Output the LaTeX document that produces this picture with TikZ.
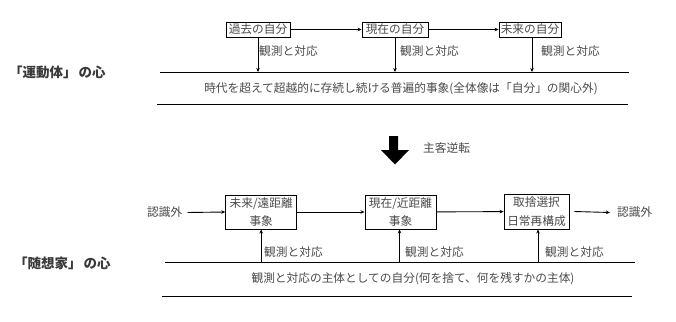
\documentclass[tikz,border=0pt]{standalone}
\usepackage{fontspec}
\setmainfont{Noto Sans CJK JP}
\usetikzlibrary{arrows.meta}
\definecolor{txt}{HTML}{4A4A4A}
\definecolor{txtb}{HTML}{3A3A3A}
\begin{document}
\begin{tikzpicture}[x=1pt,y=-1pt,
  every node/.style={font=\fontsize{11.7}{18.4}\selectfont, text=txt, inner sep=0pt},
  box/.style={draw=black, line width=0.9pt, align=center},
  ln/.style={draw=black, line width=0.9pt},
  arr/.style={ln, -{Stealth[length=4pt,width=3.5pt]}},
  title/.style={anchor=west, font=\fontsize{13.5}{14}\selectfont\bfseries, text=txtb},
  lbl/.style={anchor=west}]
\useasboundingbox (0,0) rectangle (676,321);

% ---------- top part ----------
\node[title] (m1) at (9,72) {「運動体」\hspace{2pt}の心};

\node[box, minimum width=64pt, minimum height=15pt] (p1) at (258,29.5) {過去の自分};
\node[box, minimum width=66pt, minimum height=15pt] (p2) at (395,29.5) {現在の自分};
\node[box, minimum width=62pt, minimum height=15pt] (p3) at (530,29.5) {未来の自分};

\draw[arr] (p1) -- (p2);
\draw[arr] (p2) -- (p3);

\coordinate (TL) at (160,72);
\coordinate (TR) at (629,72);
\coordinate (TL2) at (157,104);
\coordinate (TR2) at (628,104);
\draw[ln] (TL) -- (TR);
\draw[ln] (TL2) -- (TR2);

\draw[arr] (p1.south) -- (p1.south |- TL);
\draw[arr] (p2.south) -- (p2.south |- TL);
\draw[arr] ([xshift=2pt]p3.south) -- ([xshift=2pt]p3.south |- TL);

\node[lbl] (o1) at (259,51.5) {観測と対応};
\node[lbl] (o2) at (400,51.5) {観測と対応};
\node[lbl] (o3) at (541,51.5) {観測と対応};

\node (tt) at (401,88.5) {時代を超えて超越的に存続し続ける普遍的事象(全体像は「自分」の関心外)};

% ---------- reversal arrow ----------
\fill[black] (389,136) -- (398,136) -- (398,150) -- (409,150) -- (395,164.5) -- (381,150) -- (389,150) -- cycle;
\node[lbl] (rv) at (423,148) {主客逆転};

% ---------- bottom part ----------
\node[title] (m2) at (14,263) {「随想家」\hspace{2pt}の心};

\node[lbl] (in) at (147,212.5) {認識外};
\node[box, minimum width=71pt, minimum height=34pt] (e1) at (261.2,212) {未来/遠距離\\事象};
\node[box, minimum width=71pt, minimum height=34pt] (e2) at (400.5,212) {現在/近距離\\事象};
\node[box, minimum width=65pt, minimum height=35pt] (e3) at (536.5,211.5) {取捨選択\\日常再構成};
\node[lbl] (out) at (617,212.5) {認識外};

\draw[arr] ([xshift=5pt]in.east) -- (e1.west);
\draw[arr] (e1) -- (e2);
\draw[arr] (e2) -- (e3);
\draw[arr] ([xshift=5pt]e3.east) -- ([xshift=-7pt]out.west);

\coordinate (BL) at (165,262);
\coordinate (BR) at (635,262);
\coordinate (BL2) at (162,296);
\coordinate (BR2) at (632,296);
\draw[ln] (BL) -- (BR);
\draw[ln] (BL2) -- (BR2);

\draw[arr] (e1.south |- BL) -- (e1.south);
\draw[arr] ([xshift=-1pt]e2.south |- BL) -- ([xshift=-1pt]e2.south);
\draw[arr] ([xshift=1.5pt]e3.south |- BL) -- ([xshift=1.5pt]e3.south);

\node[lbl] (q1) at (264,252.5) {観測と対応};
\node[lbl] (q2) at (405,252.5) {観測と対応};
\node[lbl] (q3) at (545,252.5) {観測と対応};

\node (bt) at (413,278.5) {観測と対応の主体としての自分(何を捨て、何を残すかの主体)};
\end{tikzpicture}
\end{document}
